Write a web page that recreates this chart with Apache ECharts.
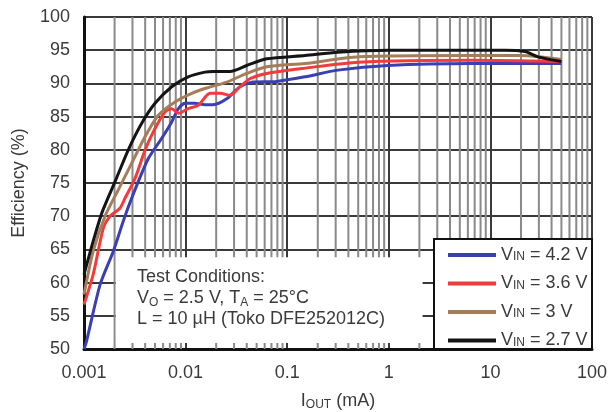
<!DOCTYPE html>
<html>
<head>
<meta charset="utf-8">
<script src="https://cdn.jsdelivr.net/npm/echarts@6/dist/echarts.min.js"></script>
<style>html,body{margin:0;padding:0;background:#fff}#c{width:610px;height:412px}</style>
</head>
<body>
<div id="c"></div>
<script>
// ---- data ----
var xTickLabels = ['0.001', '0.01', '0.1', '1', '10', '100'];
var yTicks = [50, 55, 60, 65, 70, 75, 80, 85, 90, 95, 100];
var decades = [0.001, 0.01, 0.1, 1, 10];
var minorMultipliers = [2, 3, 4, 5, 6, 7, 8, 9];

var vin42_I = [0.001, 0.00106, 0.00144, 0.00194, 0.00253, 0.00342, 0.0043, 0.0058, 0.0073, 0.0085, 0.0099, 0.0123, 0.0155, 0.0186, 0.0254, 0.0343, 0.046, 0.0788, 0.15, 0.316, 0.98, 6.6, 50];
var vin42_E = [50, 51.2, 59.7, 64.7, 70, 75.2, 78.7, 81.7, 84.2, 86.2, 87, 87, 86.8, 86.8, 87.7, 89.5, 90.2, 90.3, 91, 92, 92.7, 93, 93];

var vin36_I = [0.001, 0.00123, 0.00155, 0.0018, 0.00226, 0.00253, 0.00318, 0.004, 0.005, 0.00627, 0.0073, 0.0085, 0.0106, 0.0133, 0.0174, 0.0218, 0.0274, 0.0343, 0.043, 0.0628, 0.15, 0.5, 6.6, 50];
var vin36_E = [56.7, 61.2, 68.2, 70, 71.2, 72.7, 75.7, 80, 83.2, 85.7, 86.2, 85.5, 86.2, 86.7, 88.5, 88.5, 88.2, 89.5, 90.7, 91.5, 92.3, 93.2, 93.5, 93.3];

var vin30_I = [0.001, 0.00123, 0.00161, 0.00218, 0.00295, 0.004, 0.00539, 0.00787, 0.0115, 0.0161, 0.0254, 0.04, 0.063, 0.15, 0.5, 6.6, 20, 50];
var vin30_E = [58.2, 64.7, 70, 74, 78, 82, 85.2, 87.2, 88.5, 89.3, 90.2, 91.5, 92.5, 93, 94, 94.2, 94.2, 93.6];

var vin27_I = [0.001, 0.00123, 0.0015, 0.00202, 0.00273, 0.0037, 0.005, 0.0073, 0.0106, 0.0155, 0.0187, 0.0274, 0.04, 0.063, 0.15, 0.316, 1, 13.8, 21.9, 29.4, 50];
var vin27_E = [61.2, 66.2, 70.5, 75.2, 80, 84, 87, 89.5, 91, 91.7, 91.8, 91.8, 92.7, 93.7, 94.2, 94.7, 95, 95, 94.8, 94, 93.3];

var seriesNames = ['4.2', '3.6', '3', '2.7'];
var seriesColors = ['#3b3fb4', '#f43b3b', '#a67d59', '#141414'];

function zip(a, b) { return a.map(function (v, i) { return [v, b[i]]; }); }
var seriesData = [zip(vin42_I, vin42_E), zip(vin36_I, vin36_E), zip(vin30_I, vin30_E), zip(vin27_I, vin27_E)];

// minor vertical grid lines at 2..9 of every decade (drawn as broken line segments)
var minorGridData = [];
decades.forEach(function (d) {
  minorMultipliers.forEach(function (m) {
    var x = +(d * m).toPrecision(3);
    minorGridData.push([x, yTicks[0]], [x, yTicks[yTicks.length - 1]], [x, '-']);
  });
});

var FONT = '"Liberation Sans", Arial, sans-serif';
var TXT = '#3a3a3a';

var chart = echarts.init(document.getElementById('c'));

var series = [
  {
    name: 'minorGrid', type: 'line', data: minorGridData, z: 1, silent: true,
    showSymbol: false, connectNulls: false, animation: false,
    lineStyle: { color: '#8a8a8a', width: 2 },
    emphasis: { disabled: true }
  },
  {
    name: 'box', type: 'line', data: [], z: 2, silent: true,
    markArea: {
      z: 2, silent: true,
      itemStyle: { color: '#ffffff' },
      data: [[{ coord: [0.00206, 50.9] }, { coord: [2.15, 63.8] }]]
    }
  }
];
seriesNames.forEach(function (n, i) {
  series.push({
    name: n, type: 'line', z: 3, data: seriesData[i], showSymbol: false, smooth: 0.25,
    lineStyle: { color: seriesColors[i], width: 3 },
    itemStyle: { color: seriesColors[i] }
  });
});

chart.setOption({
  animation: false,
  backgroundColor: '#ffffff',
  grid: { left: 84, right: 18, top: 17, bottom: 63, containLabel: false, outerBoundsMode: 'none' },
  xAxis: {
    type: 'log', logBase: 10, min: 0.001, max: 100,
    name: '{a|I}{s|OUT}{a| (mA)}', nameLocation: 'middle', nameGap: 42,
    nameTextStyle: { rich: { a: { fontSize: 18, fontFamily: FONT, color: TXT }, s: { fontSize: 12, fontFamily: FONT, color: TXT, verticalAlign: 'bottom', padding: [8, 0, 0, 0] } } },
    axisLine: { show: true, lineStyle: { color: '#111', width: 3 } },
    axisTick: { show: false },
    axisLabel: {
      fontSize: 18, fontFamily: FONT, color: TXT, margin: 15,
      formatter: function (v) { var k = Math.round(Math.log10(v) + 3); return xTickLabels[k]; }
    },
    splitLine: { show: true, lineStyle: { color: '#3a3a3a', width: 2 } }
  },
  yAxis: {
    type: 'value', min: yTicks[0], max: yTicks[yTicks.length - 1], interval: 5,
    name: 'Efficiency (%)', nameLocation: 'middle', nameGap: 56,
    nameTextStyle: { fontSize: 18, fontFamily: FONT, color: TXT },
    axisLine: { show: true, lineStyle: { color: '#111', width: 3 } },
    axisTick: { show: false },
    axisLabel: { fontSize: 18, fontFamily: FONT, color: TXT, margin: 14 },
    splitLine: { show: true, lineStyle: { color: '#3a3a3a', width: 2 } }
  },
  legend: {
    orient: 'vertical', left: 448, top: 246, z: 100,
    data: seriesNames,
    padding: 0, itemGap: 10.5, itemWidth: 48, itemHeight: 4, icon: 'rect',
    selectedMode: false,
    formatter: function (n) { return '{a|V}{s|IN}{a| = ' + n + ' V}'; },
    textStyle: {
      lineHeight: 16,
      rich: {
        a: { fontSize: 18, fontFamily: FONT, color: TXT },
        s: { fontSize: 12, fontFamily: FONT, color: TXT, verticalAlign: 'bottom', padding: [7, 0, 0, 0] }
      }
    }
  },
  graphic: [{
    type: 'rect', z: 50, silent: true,
    shape: { x: 434, y: 239, width: 158, height: 110 },
    style: { fill: '#ffffff', stroke: '#111111', lineWidth: 2 }
  }, {
    type: 'text', left: 137, top: 267, z: 10, silent: true,
    style: {
      text: 'Test Conditions:\n{a|V}{s|O}{a| = 2.5 V, T}{s|A}{a| = 25°C}\nL = 10 µH (Toko DFE252012C)',
      font: '18px ' + FONT, fill: TXT, lineHeight: 21,
      rich: {
        a: { fontSize: 18, fontFamily: FONT, color: TXT, lineHeight: 21 },
        s: { fontSize: 12, fontFamily: FONT, color: TXT, verticalAlign: 'bottom', padding: [8, 0, 0, 0], lineHeight: 21 }
      }
    }
  }],
  series: series
});
</script>
</body>
</html>
